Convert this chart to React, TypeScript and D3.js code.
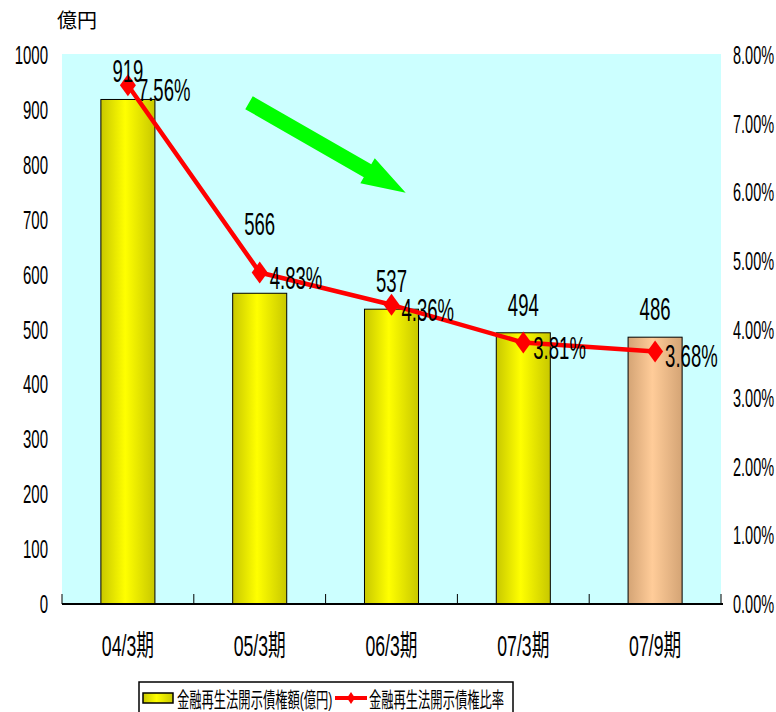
import React from "react";
import * as d3 from "d3";

const categories = ["04/3期", "05/3期", "06/3期", "07/3期", "07/9期"];
const amounts = [919, 566, 537, 494, 486];
const ratios = [7.56, 4.83, 4.36, 3.81, 3.68];
const barKinds = ["yellow", "yellow", "yellow", "yellow", "peach"];
const amountLabelLift = [0, 41, 0, 0, 0];
const amountTicks = [0, 100, 200, 300, 400, 500, 600, 700, 800, 900, 1000];
const ratioTicks = [0, 1, 2, 3, 4, 5, 6, 7, 8];
const unitLabel = "億円";
const legendBarLabel = "金融再生法開示債権額(億円)";
const legendLineLabel = "金融再生法開示債権比率";

const W = 776;
const H = 712;
const L = 62;
const R = 721;
const T = 55;
const B = 604;

const FONT = "'Liberation Sans', Arial, 'Noto Sans CJK JP', sans-serif";

function CText({ x, y, size, sx = 0.62, anchor = "start", children, fill = "#000" }: any) {
  return (
    <text
      transform={`translate(${x},${y}) scale(${sx},1)`}
      textAnchor={anchor}
      fontSize={size}
      fontFamily={FONT}
      fill={fill}
    >
      {children}
    </text>
  );
}

export default function App() {
  const x = d3
    .scaleBand<string>()
    .domain(categories)
    .range([L, R])
    .paddingInner(0.59)
    .paddingOuter(0.295);
  const step = x.step();
  const yL = d3.scaleLinear().domain([0, 1000]).range([B, T]);
  const yR = d3.scaleLinear().domain([0, 8]).range([B, T]);
  const cx = (c: string) => (x(c) as number) + x.bandwidth() / 2;

  const linePts: [number, number][] = categories.map((c, i) => [cx(c), yR(ratios[i])]);
  const lineGen = d3.line();

  // annotation arrow (decorative)
  const a0 = [249, 102.7];
  const a1 = [405.7, 192.7];
  const ang = Math.atan2(a1[1] - a0[1], a1[0] - a0[0]);
  const len = Math.hypot(a1[0] - a0[0], a1[1] - a0[1]);
  const sw = 7.5, hw = 14.5, hl = 44;
  const local = [
    [0, -sw], [len - hl, -sw], [len - hl, -hw], [len, 0], [len - hl, hw], [len - hl, sw], [0, sw],
  ];
  const arrowPts = local
    .map(([px, py]) => {
      const gx = a0[0] + px * Math.cos(ang) - py * Math.sin(ang);
      const gy = a0[1] + px * Math.sin(ang) + py * Math.cos(ang);
      return `${gx},${gy}`;
    })
    .join(" ");

  const boundaries = d3.range(categories.length + 1).map((i) => L + i * step);

  const diamond = (px: number, py: number, w = 8, h = 11) =>
    `M${px},${py - h}L${px + w},${py}L${px},${py + h}L${px - w},${py}Z`;

  return (
    <svg
      width={W}
      height={H}
      style={{ position: "absolute", left: 0, top: 0, background: "#fff" }}
    >
      <defs>
        <linearGradient id="gYellow" x1="0" x2="1" y1="0" y2="0">
          <stop offset="0%" stopColor="#c8c800" />
          <stop offset="45%" stopColor="#ffff00" />
          <stop offset="100%" stopColor="#c8c800" />
        </linearGradient>
        <linearGradient id="gPeach" x1="0" x2="1" y1="0" y2="0">
          <stop offset="0%" stopColor="#d4a475" />
          <stop offset="45%" stopColor="#ffcc99" />
          <stop offset="100%" stopColor="#d4a475" />
        </linearGradient>
      </defs>

      <text x={57} y={28} fontSize={20} fontFamily="'Noto Sans CJK JP', sans-serif" fill="#000">
        {unitLabel}
      </text>

      <rect x={L} y={T - 1} width={R - L} height={B - T + 1} fill="#ccffff" />

      {/* bars */}
      {categories.map((c, i) => (
        <rect
          key={c}
          x={x(c)}
          y={yL(amounts[i])}
          width={x.bandwidth()}
          height={B - yL(amounts[i])}
          fill={barKinds[i] === "peach" ? "url(#gPeach)" : "url(#gYellow)"}
          stroke="#000"
          strokeWidth={1}
        />
      ))}

      {/* x axis */}
      <line x1={L} x2={R + 2} y1={B} y2={B} stroke="#000" strokeWidth={2} />
      {boundaries.map((bx, i) => (
        <line key={i} x1={bx} x2={bx} y1={B} y2={B - 10} stroke="#000" strokeWidth={1} />
      ))}

      {/* left ticks */}
      {amountTicks.map((t) => (
        <CText key={t} x={48} y={yL(t) + 9} size={25} sx={0.6} anchor="end">
          {t}
        </CText>
      ))}
      {/* right ticks */}
      {ratioTicks.map((t) => (
        <CText key={t} x={733} y={yR(t) + 9} size={25} sx={0.58}>
          {`${t.toFixed(2)}%`}
        </CText>
      ))}

      {/* category labels */}
      {categories.map((c) => (
        <CText key={c} x={cx(c)} y={656} size={29} sx={0.61} anchor="middle">
          {c}
        </CText>
      ))}

      {/* green arrow */}
      <polygon points={arrowPts} fill="#00ff00" />

      {/* line */}
      <path d={lineGen(linePts) || ""} fill="none" stroke="#ff0000" strokeWidth={4.5} strokeLinejoin="round" />
      {linePts.map(([px, py], i) => (
        <path key={i} d={diamond(px, py)} fill="#ff0000" />
      ))}

      {/* value labels */}
      {categories.map((c, i) => (
        <CText
          key={c}
          x={cx(c)}
          y={yL(amounts[i]) - 17 - amountLabelLift[i]}
          size={32}
          sx={0.58}
          anchor="middle"
        >
          {amounts[i]}
        </CText>
      ))}
      {linePts.map(([px, py], i) => (
        <CText key={i} x={px + 10} y={py + 16} size={32} sx={0.58}>
          {`${ratios[i].toFixed(2)}%`}
        </CText>
      ))}

      {/* legend */}
      <rect x={139} y={682} width={374} height={40} fill="#fff" stroke="#000" strokeWidth={1.5} />
      <rect x={143} y={693} width={30} height={10} fill="url(#gYellow)" stroke="#000" strokeWidth={1.5} />
      <CText x={177} y={707} size={21} sx={0.585}>
        {legendBarLabel}
      </CText>
      <line x1={335} x2={367} y1={698} y2={698} stroke="#ff0000" strokeWidth={4} />
      <path d={diamond(351, 698, 4, 6)} fill="#ff0000" />
      <CText x={369} y={707} size={21} sx={0.585}>
        {legendLineLabel}
      </CText>
    </svg>
  );
}
